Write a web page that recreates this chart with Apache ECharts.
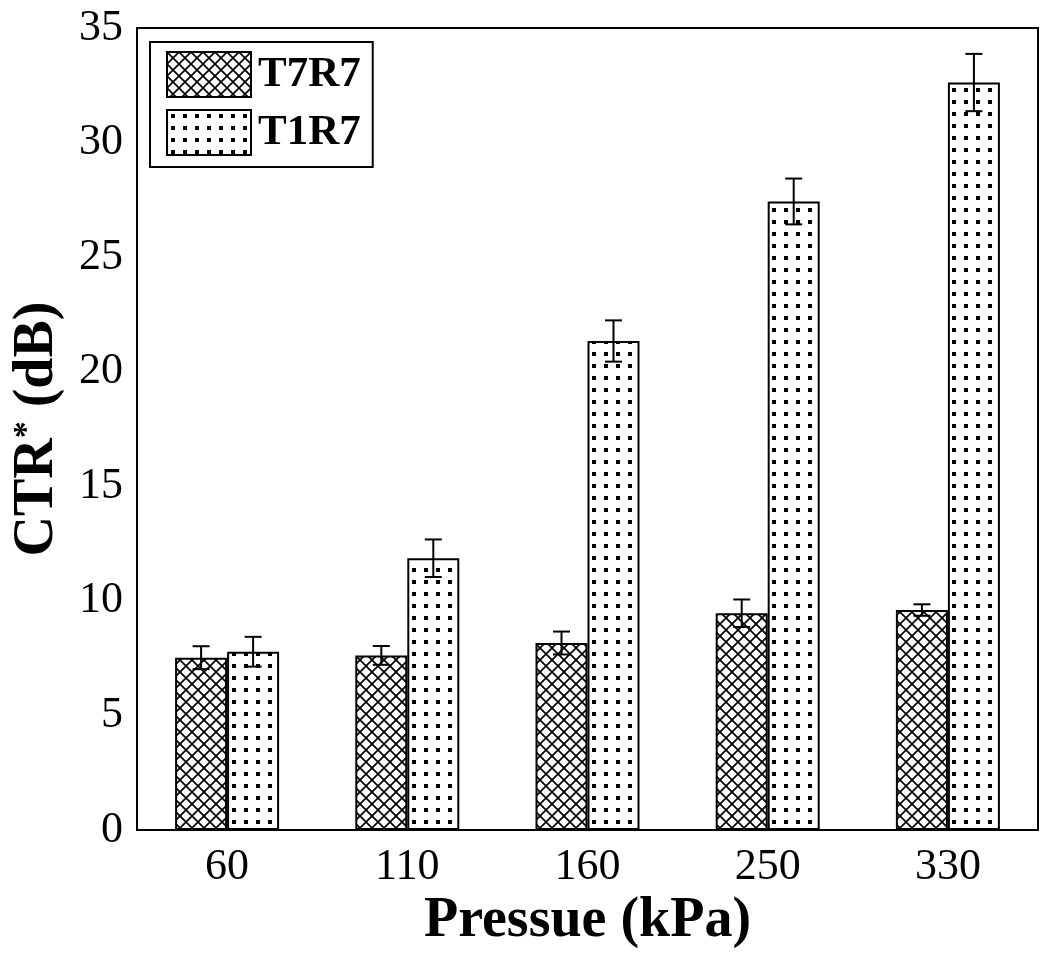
<!DOCTYPE html>
<html>
<head>
<meta charset="utf-8">
<script src="https://cdn.jsdelivr.net/npm/echarts@6/dist/echarts.min.js"></script>
<style>html,body{margin:0;padding:0;background:#fff;}#c{width:1050px;height:957px;}</style>
</head>
<body>
<div id="c"></div>
<script>
const categories = ['60', '110', '160', '250', '330'];
const t7r7 = [7.52, 7.62, 8.16, 9.46, 9.60];
const t7r7Err = [0.50, 0.41, 0.50, 0.60, 0.25];
const t1r7 = [7.78, 11.86, 21.34, 27.43, 32.62];
const t1r7Err = [0.65, 0.82, 0.90, 1.00, 1.25];
const yTicks = { min: 0, max: 35, interval: 5 };

const FONT = 'Liberation Serif';
const BAR_W = 52;

function makeCross() {
  const c = document.createElement('canvas');
  c.width = 12; c.height = 12;
  const g = c.getContext('2d');
  g.fillStyle = '#fff'; g.fillRect(0, 0, 12, 12);
  g.strokeStyle = '#000'; g.lineWidth = 1.7;
  g.beginPath();
  g.moveTo(-1, -1); g.lineTo(13, 13);
  g.moveTo(13, -1); g.lineTo(-1, 13);
  g.stroke();
  return c;
}
function makeDots() {
  const c = document.createElement('canvas');
  c.width = 12; c.height = 12;
  const g = c.getContext('2d');
  g.fillStyle = '#fff'; g.fillRect(0, 0, 12, 12);
  g.fillStyle = '#000'; g.fillRect(4, 4, 4, 4);
  return c;
}
const crossPat = { image: makeCross(), repeat: 'repeat' };
const dotPat = { image: makeDots(), repeat: 'repeat' };

function errSeries(vals, errs, offset) {
  return {
    type: 'custom',
    z: 5,
    silent: true,
    data: vals.map((v, i) => [i, v, errs[i]]),
    renderItem: function (params, api) {
      const i = api.value(0), v = api.value(1), e = api.value(2);
      const hi = api.coord([i, v + e]);
      const lo = api.coord([i, v - e]);
      const cx = hi[0] + offset;
      const cap = 8.5;
      const st = { stroke: '#000', lineWidth: 2 };
      return {
        type: 'group',
        children: [
          { type: 'line', shape: { x1: cx, y1: hi[1], x2: cx, y2: lo[1] }, style: st },
          { type: 'line', shape: { x1: cx - cap, y1: hi[1], x2: cx + cap, y2: hi[1] }, style: st },
          { type: 'line', shape: { x1: cx - cap, y1: lo[1], x2: cx + cap, y2: lo[1] }, style: st }
        ]
      };
    }
  };
}

const chart = echarts.init(document.getElementById('c'));
chart.setOption({
  animation: false,
  backgroundColor: '#fff',
  grid: { left: 137, right: 12, top: 28, bottom: 127, show: true, borderColor: '#000', borderWidth: 2 },
  legend: {
    data: [
      { name: 'T7R7', itemStyle: { color: crossPat, borderColor: '#000', borderWidth: 2 } },
      { name: 'T1R7', itemStyle: { color: dotPat, borderColor: '#000', borderWidth: 2 } }
    ],
    orient: 'vertical',
    left: 150, top: 42,
    padding: [9, 12, 11, 16],
    itemWidth: 84, itemHeight: 45, itemGap: 11,
    borderColor: '#000', borderWidth: 2, borderRadius: 0,
    icon: 'rect',
    textStyle: { fontFamily: FONT, fontSize: 43, fontWeight: 'bold', color: '#000', padding: [0, 0, 0, 2] }
  },
  xAxis: {
    type: 'category',
    data: categories,
    axisLine: { lineStyle: { color: '#000', width: 2 } },
    axisTick: { show: false },
    axisLabel: { fontFamily: FONT, fontSize: 44, color: '#000', margin: 15 },
    name: 'Pressue (kPa)',
    nameLocation: 'middle',
    nameGap: 60,
    nameTextStyle: { fontFamily: FONT, fontSize: 56, fontWeight: 'bold', color: '#000' }
  },
  yAxis: {
    type: 'value',
    min: yTicks.min, max: yTicks.max, interval: yTicks.interval,
    axisLine: { show: true, lineStyle: { color: '#000', width: 2 } },
    axisTick: { show: false },
    splitLine: { show: false },
    axisLabel: { fontFamily: FONT, fontSize: 44, color: '#000', margin: 14 },
    name: 'CTR{sup|*} (dB)',
    nameLocation: 'middle',
    nameGap: 71,
    nameTextStyle: {
      fontFamily: FONT, fontSize: 56, fontWeight: 'bold', color: '#000',
      rich: {
        sup: { fontFamily: FONT, fontSize: 34, fontWeight: 'bold', color: '#000', verticalAlign: 'top', padding: [0, 0, 18, 0] }
      }
    }
  },
  series: [
    {
      name: 'T7R7', type: 'bar', data: t7r7, barWidth: BAR_W, barGap: '0%',
      itemStyle: { color: crossPat, borderColor: '#000', borderWidth: 2 }
    },
    {
      name: 'T1R7', type: 'bar', data: t1r7, barWidth: BAR_W, barGap: '0%',
      itemStyle: { color: dotPat, borderColor: '#000', borderWidth: 2 }
    },
    errSeries(t7r7, t7r7Err, -BAR_W / 2),
    errSeries(t1r7, t1r7Err, BAR_W / 2)
  ]
});
</script>
</body>
</html>
